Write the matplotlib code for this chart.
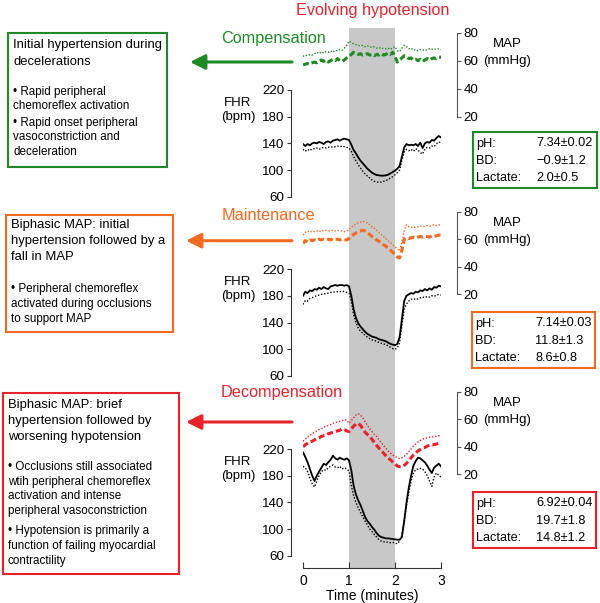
import numpy as np
import matplotlib.pyplot as plt
from matplotlib.patches import Rectangle

plt.rcParams['font.family'] = ['Liberation Sans', 'DejaVu Sans']

time = np.round(np.arange(0, 3.001, 0.05), 2)

# compensation
comp_fhr = [139, 136, 139, 137, 140, 141, 140, 142, 141, 139, 142, 143, 141, 144, 145, 146, 144, 146, 147, 146,
            145, 138, 130, 125, 119, 114, 110, 106, 102, 99, 96, 94, 92.5, 92, 91.5, 91.5, 92, 93, 95, 97,
            99, 102, 106, 120, 134, 139, 137, 138, 137, 139, 136, 141, 133, 140, 142, 141, 145, 144, 148, 151, 149]
comp_fhr_lo = [131, 128, 131, 129, 132, 132, 133, 131, 133, 134, 133, 134, 135, 134, 135, 136, 135, 136, 135, 134,
               133, 128, 120, 114, 108, 103, 98, 94, 91, 88, 85, 83, 82, 81.5, 82, 83, 84, 86, 88, 90,
               93, 96, 100, 115, 127, 131, 129, 131, 128, 132, 130, 126, 124, 132, 134, 133, 136, 135, 139, 142, 141]
comp_map = [57, 57.5, 58, 57.5, 58.5, 59, 58.5, 59.5, 60.5, 59.5, 60.5, 59, 60, 61, 60, 61.5, 60, 59.5, 60.5, 62,
            63, 64.5, 66, 65.5, 64.5, 65, 64, 64.5, 65, 64, 64.5, 63.5, 64.5, 64, 65, 64, 64.5, 65.5, 64.5, 66,
            63, 59, 60.5, 62, 63.5, 63, 61.5, 62, 60.5, 61, 60, 61, 59.5, 60.5, 61.5, 60.5, 61.5, 62, 61.5, 62.5, 62.5]
comp_map_hi = [63, 64, 63.5, 64.5, 64, 65, 66, 65, 66.5, 65.5, 66.5, 66, 67, 66, 67.5, 67, 68, 67.5, 69, 71,
               74, 73, 72, 71.5, 71, 70.5, 71, 70, 70.5, 70, 69.5, 70, 69, 69.5, 68.5, 69, 68.5, 69, 68, 69.5,
               70, 67, 66.5, 69, 71, 70, 68.5, 69, 67.5, 68, 67, 68, 67.5, 68, 67.5, 68.5, 68, 68.5, 68, 68.5, 68]

# maintenance
main_fhr = [180, 186, 184, 188, 187, 190, 189, 192, 190, 193, 191, 190, 194, 195, 196, 195, 196, 196, 195, 196,
            194, 180, 160, 147, 139, 134, 130, 126, 123, 121, 119, 118, 117, 115, 114, 113, 112, 110, 108, 107,
            106, 108, 118, 145, 172, 180, 182, 184, 183, 186, 185, 188, 187, 190, 188, 191, 189, 193, 192, 195, 194]
main_fhr_lo = [167, 173, 172, 176, 177, 179, 180, 181, 182, 183, 183, 184, 185, 185, 186, 186, 186, 187, 186, 185,
               184, 172, 152, 140, 132, 127, 124, 121, 118, 116, 114, 113, 112, 110, 109, 108, 107, 105, 103, 101,
               100, 102, 110, 135, 160, 168, 172, 175, 174, 176, 175, 177, 178, 177, 179, 178, 180, 179, 181, 182, 181]
main_map = [57, 59, 58, 59.5, 59, 59.5, 59, 60, 59.5, 60, 59.5, 60, 59.5, 60.5, 60, 60, 59.5, 60, 59.5, 59.5,
            60.5, 62, 63.5, 64.5, 65.5, 66, 66.5, 66, 65, 63.5, 62, 61, 59.5, 58.5, 57, 56, 55, 53.5, 52, 50.5,
            49, 47, 46.5, 52, 60, 61, 60.5, 61, 61.5, 61, 61.5, 62, 61.5, 62, 62, 61.5, 62.5, 62, 62.5, 63, 63]
main_map_hi = [63, 65, 66, 65, 66, 65.5, 66, 65.5, 66.5, 66, 66.5, 66, 66, 66.5, 66, 66.5, 66, 66, 65.5, 66,
               67, 68.5, 70, 71, 72, 72.5, 73, 72.5, 72, 70.5, 69, 68, 66.5, 65, 63.5, 62, 60.5, 59, 57.5, 56,
               54.5, 53, 51.5, 58, 66, 70.5, 69, 68.5, 69, 68.5, 69, 69.5, 69, 69.5, 70, 69.5, 70, 70.5, 70, 70.5, 70]

# decompensation
deco_fhr = [215, 208, 200, 190, 180, 172, 180, 186, 192, 198, 196, 200, 204, 210, 206, 204, 207, 205, 204, 206,
            203, 188, 165, 152, 143, 136, 127, 118, 112, 108, 103, 99, 94, 90, 88, 87, 86, 86, 85.5, 85,
            84.5, 84, 84, 88, 112, 140, 162, 180, 195, 202, 207, 206, 203, 200, 195, 189, 184, 192, 195, 198, 194]
deco_fhr_lo = [194, 192, 186, 176, 168, 163, 172, 180, 186, 189, 188, 192, 194, 196, 193, 192, 194, 190, 192, 190,
               187, 165, 150, 140, 132, 125, 118, 112, 106, 100, 96, 92, 88, 84, 82, 81, 80, 80.5, 79.5, 80,
               79, 78, 82, 90, 112, 135, 155, 172, 184, 189, 190, 191, 190, 186, 180, 172, 164, 178, 184, 181, 178]
deco_map = [40, 41.5, 42.5, 43.5, 44, 45, 46, 46.5, 47.5, 48, 48.5, 49.5, 50, 50.5, 51, 51.5, 52, 53, 52.5, 51.5,
            51, 53, 55, 56.5, 57, 55.5, 53, 50.5, 49, 47.5, 45.5, 43, 41, 39, 37, 35.5, 33.5, 32, 30.5, 29,
            27.5, 26, 25.5, 25.5, 26.5, 28, 30, 32, 34, 35.5, 37, 38, 39, 39.5, 40.5, 41, 41.5, 41.5, 42, 42.5, 42]
deco_map_hi = [44, 45.5, 47, 48.5, 49.5, 50.5, 51.5, 52.5, 53, 54, 55, 55.5, 56, 57, 57.5, 58, 58.5, 59, 59.5, 59.5,
               57, 59, 61, 63, 64, 63, 61, 58, 55.5, 53, 51, 49, 47.5, 45, 43, 41, 39, 37, 35.5, 34,
               33, 32, 31.5, 32, 33, 34.5, 36.5, 38.5, 40.5, 42, 43.5, 44.5, 45.5, 46, 46.5, 47, 47, 47.5, 47.5, 48, 48]

phases = ['Compensation', 'Maintenance', 'Decompensation']
colors = ['#1f8a24', '#f26a21', '#e8222b']
fhr_sets = [(comp_fhr, comp_fhr_lo), (main_fhr, main_fhr_lo), (deco_fhr, deco_fhr_lo)]
map_sets = [(comp_map, comp_map_hi), (main_map, main_map_hi), (deco_map, deco_map_hi)]

headings = ['Initial hypertension during\ndecelerations',
            'Biphasic MAP: initial\nhypertension followed by a\nfall in MAP',
            'Biphasic MAP: brief\nhypertension followed by\nworsening hypotension']
bullets = [['\u2022 Rapid peripheral\nchemoreflex activation',
            '\u2022 Rapid onset peripheral\nvasoconstriction and\ndeceleration'],
           ['\u2022 Peripheral chemoreflex\nactivated during occlusions\nto support MAP'],
           ['\u2022 Occlusions still associated\nwtih peripheral chemoreflex\nactivation and intense\nperipheral vasoconstriction',
            '\u2022 Hypotension is primarily a\nfunction of failing myocardial\ncontractility']]

ph_vals = ['7.34\u00b10.02', '7.14\u00b10.03', '6.92\u00b10.04']
bd_vals = ['\u22120.9\u00b11.2', '11.8\u00b11.3', '19.7\u00b11.8']
lac_vals = ['2.0\u00b10.5', '8.6\u00b10.8', '14.8\u00b11.2']

W, H = 600, 603
fig = plt.figure(figsize=(6, 6.03), dpi=100)


def rect(x0, y0, x1, y1):
    return [x0 / W, 1 - y1 / H, (x1 - x0) / W, (y1 - y0) / H]


# shaded occlusion band + time axis
bg = fig.add_axes(rect(303, 28, 441, 568))
bg.set_xlim(0, 3)
bg.set_ylim(0, 1)
bg.axvspan(1, 2, color='#c8c8c8', lw=0)
for s in ['top', 'left', 'right']:
    bg.spines[s].set_visible(False)
bg.spines['bottom'].set_color('#333333')
bg.set_yticks([])
bg.set_xticks([0, 1, 2, 3])
bg.tick_params(axis='x', direction='in', length=4, pad=4, labelsize=10, color='#333333')
bg.set_xlabel('Time (minutes)', fontsize=10, labelpad=1)

map_top = [32.7, 211.7, 391.7]
map_bot = [116.7, 294.3, 474.3]
fhr_top = [90, 269, 449]
fhr_bot = [196.7, 376, 555.7]

for i in range(3):
    c = colors[i]
    am = fig.add_axes(rect(303, map_top[i], 441, map_bot[i]))
    am.patch.set_visible(False)
    am.set_xlim(0, 3)
    am.set_ylim(20, 80)
    am.plot(time, map_sets[i][1], color=c, lw=1.0, ls=(0, (1, 1.3)))
    am.plot(time, map_sets[i][0], color=c, lw=2.2, ls=(0, (2, 1)))
    for s in ['top', 'left', 'bottom']:
        am.spines[s].set_visible(False)
    am.spines['right'].set_position(('outward', 11.3))
    am.spines['right'].set_color('#555555')
    am.yaxis.tick_right()
    am.set_yticks([20, 40, 60, 80])
    am.set_xticks([])
    am.tick_params(axis='y', length=3, pad=2, labelsize=9.6, color='#555555')

    af = fig.add_axes(rect(303, fhr_top[i], 441, fhr_bot[i]))
    af.patch.set_visible(False)
    af.set_xlim(0, 3)
    af.set_ylim(60, 220)
    af.plot(time, fhr_sets[i][1], color='black', lw=1.0, ls=(0, (1, 1.3)))
    af.plot(time, fhr_sets[i][0], color='black', lw=1.3)
    for s in ['top', 'right', 'bottom']:
        af.spines[s].set_visible(False)
    af.spines['left'].set_position(('outward', 8.6))
    af.spines['left'].set_color('#333333')
    af.set_yticks([60, 100, 140, 180, 220])
    af.set_xticks([])
    af.tick_params(axis='y', length=3, pad=2, labelsize=9.6, color='#333333')

# annotation layer in pixel coordinates
ov = fig.add_axes([0, 0, 1, 1])
ov.set_xlim(0, W)
ov.set_ylim(H, 0)
ov.axis('off')

ov.text(373, 10, 'Evolving hypotension', color='#e3262e', fontsize=11.7, ha='center', va='center')

label_xy = [(273, 38), (268, 215), (282, 393)]
arrow_y = [62, 240.7, 422]
arrow_tip = [190, 186, 186]
for i in range(3):
    c = colors[i]
    ov.text(label_xy[i][0], label_xy[i][1], phases[i], color=c, fontsize=11.7, ha='center', va='center')
    ov.annotate('', xy=(arrow_tip[i], arrow_y[i]), xytext=(292, arrow_y[i]),
                arrowprops=dict(arrowstyle='-|>,head_length=0.9,head_width=0.45', lw=2.2, color=c,
                                shrinkA=0, shrinkB=0))
    ov.text(238, fhr_top[i] + 20, 'FHR\n(bpm)', fontsize=9.5, ha='center', va='center', linespacing=1.3)
    ov.text(507, map_top[i] + 20, 'MAP\n(mmHg)', fontsize=9.5, ha='center', va='center', linespacing=1.6)

# left description boxes
box_l = [(8, 33, 167, 167), (6, 215, 173, 332), (3, 393, 179, 574)]
head_y = [53.5, 241, 421]
bullet_y = [[99, 137.5], [304], [489, 546]]
for i in range(3):
    x0, y0, x1, y1 = box_l[i]
    ov.add_patch(Rectangle((x0, y0), x1 - x0, y1 - y0, fill=False, ec=colors[i], lw=1.5))
    ov.text(x0 + 5, head_y[i], headings[i], fontsize=9.4, ha='left', va='center', linespacing=1.45)
    for b, by in zip(bullets[i], bullet_y[i]):
        ov.text(x0 + 5, by, b, fontsize=8.4, ha='left', va='center', linespacing=1.32)

# right blood gas boxes
box_r = [(473, 132, 597, 188), (472, 312, 595, 368), (473, 492, 596, 548)]
for i in range(3):
    x0, y0, x1, y1 = box_r[i]
    ov.add_patch(Rectangle((x0, y0), x1 - x0, y1 - y0, fill=False, ec=colors[i], lw=1.5))
    rows = [('pH:', ph_vals[i]), ('BD:', bd_vals[i]), ('Lactate:', lac_vals[i])]
    for (lab, val), dy in zip(rows, [11.5, 29, 46]):
        ov.text(x0 + 3, y0 + dy, lab, fontsize=9.2, ha='left', va='center')
        ov.text(x0 + 63, y0 + dy, val, fontsize=9.2, ha='left', va='center')

fig.savefig('out.png', dpi=100)
